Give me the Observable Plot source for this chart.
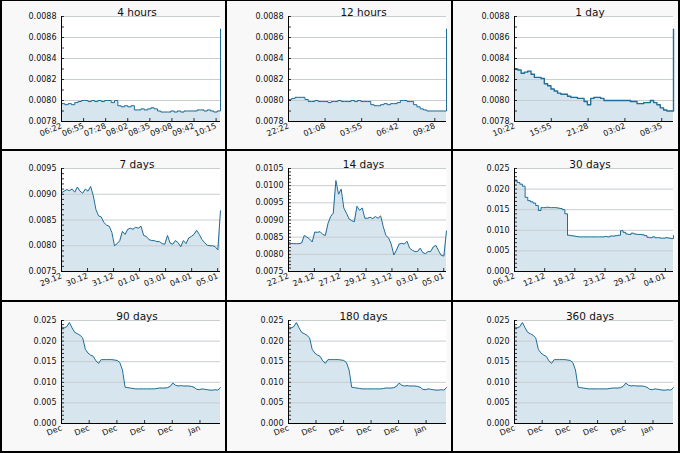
<!DOCTYPE html>
<html>
<head>
<meta charset="utf-8">
<script src="https://cdn.jsdelivr.net/npm/d3@7"></script>
<script src="https://cdn.jsdelivr.net/npm/@observablehq/plot@0.6"></script>
<style>
  html, body { margin: 0; padding: 0; background: #fff; }
  #grid { position: relative; width: 680px; height: 453px; background: #000; overflow: hidden; }
  .panel { position: absolute; background: #f8f8f8; overflow: hidden; }
  .panel svg { display: block; }
</style>
</head>
<body>
<div id="grid"></div>
<script>
// ---------- data ----------
const titles = ["4 hours", "12 hours", "1 day", "7 days", "14 days", "30 days", "90 days", "180 days", "360 days"];

// time spans of each panel (hours) and spacing of its x ticks (hours)
const spans = [4, 12, 24, 168, 336, 720, 744, 744, 744];
const tickSteps = [0.5556, 2.7778, 5.5556, 27.5, 55, 136.6, 129.6, 129.6, 129.6];

const labels4h  = ["06:22", "06:55", "07:28", "08:02", "08:35", "09:08", "09:42", "10:15"];
const labels12h = ["22:22", "01:08", "03:55", "06:42", "09:28"];
const labels1d  = ["10:22", "15:55", "21:28", "03:02", "08:35"];
const labels7d  = ["29.12", "30.12", "31.12", "01.01", "03.01", "04.01", "05.01"];
const labels14d = ["22.12", "24.12", "27.12", "29.12", "31.12", "03.01", "05.01"];
const labels30d = ["06.12", "12.12", "18.12", "23.12", "29.12", "04.01"];
const labelsMonths = ["Dec", "Dec", "Dec", "Dec", "Dec", "Jan"];

const yDomainShort = [0.0078, 0.0088];
const yDomain7d = [0.0075, 0.0095];
const yDomain14d = [0.0075, 0.0105];
const yDomainLong = [0, 0.025];

const yMajorShort = [0.0078, 0.0080, 0.0082, 0.0084, 0.0086, 0.0088];
const yMajor7d = [0.0075, 0.0080, 0.0085, 0.0090, 0.0095];
const yMajor14d = [0.0075, 0.0080, 0.0085, 0.0090, 0.0095, 0.0100, 0.0105];
const yMajorLong = [0, 0.005, 0.010, 0.015, 0.020, 0.025];

// values sampled evenly across each panel's span
const values4h = [
  0.00797, 0.00796, 0.00797, 0.00796, 0.00798, 0.00799, 0.00800, 0.00800, 0.00799, 0.00800,
  0.00799, 0.00800, 0.00799, 0.00800, 0.00800, 0.00798, 0.00800, 0.00795, 0.00794, 0.00795,
  0.00794, 0.00795, 0.00791, 0.00791, 0.00792, 0.00791, 0.00792, 0.00793, 0.00792, 0.00790,
  0.00789, 0.00789, 0.00789, 0.00790, 0.00789, 0.00790, 0.00789, 0.00790, 0.00790, 0.00790,
  0.00790, 0.00791, 0.00791, 0.00790, 0.00791, 0.00790, 0.00789, 0.00790, 0.00868
];
const values12h = [
  0.00801, 0.00802, 0.00803, 0.00803, 0.00803, 0.00801, 0.00799, 0.00799, 0.00800, 0.00799,
  0.00799, 0.00799, 0.00798, 0.00799, 0.00799, 0.00800, 0.00799, 0.00799, 0.00799, 0.00800,
  0.00799, 0.00800, 0.00799, 0.00799, 0.00799, 0.00796, 0.00795, 0.00795, 0.00796, 0.00797,
  0.00796, 0.00797, 0.00797, 0.00798, 0.00800, 0.00800, 0.00799, 0.00799, 0.00796, 0.00794,
  0.00792, 0.00791, 0.00790, 0.00790, 0.00790, 0.00790, 0.00790, 0.00790, 0.00868
];
const values1d = [
  0.00830, 0.00829, 0.00826, 0.00827, 0.00828, 0.00825, 0.00822, 0.00822, 0.00821, 0.00816,
  0.00814, 0.00811, 0.00809, 0.00807, 0.00806, 0.00806, 0.00804, 0.00803, 0.00803, 0.00802,
  0.00802, 0.00799, 0.00796, 0.00802, 0.00803, 0.00803, 0.00802, 0.00800, 0.00800, 0.00800,
  0.00800, 0.00800, 0.00800, 0.00800, 0.00800, 0.00799, 0.00799, 0.00797, 0.00797, 0.00798,
  0.00798, 0.00800, 0.00798, 0.00796, 0.00793, 0.00791, 0.00790, 0.00790, 0.00868
];
const values7d = [
  0.00903, 0.00906, 0.00909, 0.00907, 0.00910, 0.00904, 0.00914, 0.00906, 0.00902, 0.00910,
  0.00906, 0.00915, 0.00897, 0.00870, 0.00858, 0.00856, 0.00845, 0.00840, 0.00838, 0.00826,
  0.00800, 0.00804, 0.00810, 0.00828, 0.00822, 0.00832, 0.00834, 0.00832, 0.00836, 0.00834,
  0.00838, 0.00820, 0.00818, 0.00812, 0.00810, 0.00810, 0.00808, 0.00808, 0.00804, 0.00803,
  0.00820, 0.00805, 0.00803, 0.00810, 0.00806, 0.00798, 0.00810, 0.00804, 0.00815, 0.00818,
  0.00822, 0.00830, 0.00822, 0.00812, 0.00806, 0.00801, 0.00800, 0.00800, 0.00798, 0.00792,
  0.00868
];
const values14d = [
  0.00835, 0.00832, 0.00831, 0.00831, 0.00831, 0.00833, 0.00855, 0.00850, 0.00845, 0.00836,
  0.00865, 0.00864, 0.00866, 0.00858, 0.00855, 0.00890, 0.00910, 0.00920, 0.01015, 0.00975,
  0.00990, 0.00935, 0.00920, 0.00903, 0.00898, 0.00895, 0.00940, 0.00928, 0.00935, 0.00905,
  0.00905, 0.00908, 0.00904, 0.00910, 0.00905, 0.00912, 0.00880, 0.00855, 0.00848, 0.00830,
  0.00798, 0.00812, 0.00830, 0.00832, 0.00830, 0.00838, 0.00818, 0.00812, 0.00808, 0.00808,
  0.00818, 0.00805, 0.00802, 0.00808, 0.00808, 0.00822, 0.00826, 0.00810, 0.00797, 0.00795,
  0.00868
];
const values30d = [
  0.0222, 0.0216, 0.0212, 0.0207, 0.0180, 0.0172, 0.0169, 0.0166, 0.0160, 0.0148,
  0.0155, 0.0155, 0.0156, 0.0155, 0.0155, 0.0155, 0.0154, 0.0153, 0.0150, 0.0140,
  0.0088, 0.0087, 0.0086, 0.0085, 0.0084, 0.0084, 0.0084, 0.0084, 0.0084, 0.0084,
  0.0084, 0.0084, 0.0084, 0.0084, 0.0085, 0.0084, 0.0086, 0.0086, 0.0087, 0.0088,
  0.0099, 0.0095, 0.0091, 0.0090, 0.0093, 0.0091, 0.0090, 0.0090, 0.0089, 0.0087,
  0.0083, 0.0082, 0.0084, 0.0082, 0.0082, 0.0081, 0.0081, 0.0082, 0.0081, 0.0080,
  0.0087
];
const valuesLong = [
  0.0235, 0.0232, 0.0235, 0.0245, 0.0232, 0.0221, 0.0218, 0.0214, 0.0208, 0.0180,
  0.0171, 0.0166, 0.0163, 0.0152, 0.0146, 0.0155, 0.0155, 0.0155, 0.0155, 0.0155,
  0.0154, 0.0153, 0.0148, 0.0130, 0.0088, 0.0087, 0.0086, 0.0085, 0.0084, 0.0084,
  0.0084, 0.0084, 0.0084, 0.0084, 0.0084, 0.0084, 0.0085, 0.0086, 0.0086, 0.0086,
  0.0087, 0.0090, 0.0098, 0.0093, 0.0091, 0.0092, 0.0091, 0.0091, 0.0091, 0.0090,
  0.0088, 0.0083, 0.0082, 0.0084, 0.0083, 0.0082, 0.0081, 0.0081, 0.0082, 0.0081,
  0.0087
];

// ---------- panel assembly ----------
const panelValues = [values4h, values12h, values1d, values7d, values14d, values30d, valuesLong, valuesLong, valuesLong];
const panelLabels = [labels4h, labels12h, labels1d, labels7d, labels14d, labels30d, labelsMonths, labelsMonths, labelsMonths];
const panelDomains = [yDomainShort, yDomainShort, yDomainShort, yDomain7d, yDomain14d, yDomainLong, yDomainLong, yDomainLong, yDomainLong];
const panelMajors = [yMajorShort, yMajorShort, yMajorShort, yMajor7d, yMajor14d, yMajorLong, yMajorLong, yMajorLong, yMajorLong];
const panelMinorStep = [0.0001, 0.0001, 0.0001, 0.0001, 0.0001, 0.001, 0.001, 0.001, 0.001];
const panelFormat = [".4f", ".4f", ".4f", ".4f", ".4f", ".3f", ".3f", ".3f", ".3f"];
const panelCurve = ["step-after", "step-after", "step-after", "linear", "linear", "step-after", "linear", "linear", "linear"];

// layout (pixels)
const colX = [2, 227, 453], colW = [223, 224, 225];
const rowY = [1, 151, 302], rowH = [148, 149, 149];
const colML = [59, 61, 61];
const rowMT = [15, 17, 18], rowMB = [28, 29, 28];
const MR = 5;

const lineColor = "#1f6d98";
const fillColor = "#d6e5ee";
const gridColor = "#c8cdd0";

const grid = document.getElementById("grid");

titles.forEach((title, p) => {
  const col = p % 3, row = Math.floor(p / 3);
  const W = colW[col], H = rowH[row];
  const ml = colML[col], mt = rowMT[row], mb = rowMB[row];
  const innerW = W - ml - MR, innerH = H - mt - mb;

  const vals = panelValues[p];
  const span = spans[p];
  const n = vals.length - 1;
  const data = vals.map((v, i) => ({t: span * i / n, v}));

  const labels = panelLabels[p];
  const step = tickSteps[p];
  const xTicks = labels.map((_, i) => i * step);

  const [y0, y1] = panelDomains[p];
  const mstep = panelMinorStep[p];
  const minors = d3.range(Math.round(y0 / mstep), Math.round(y1 / mstep) + 1).map(k => +(k * mstep).toFixed(6));
  const fmt = d3.format(panelFormat[p]);
  const curve = panelCurve[p];

  const chart = Plot.plot({
    width: W,
    height: H,
    marginLeft: ml,
    marginRight: MR,
    marginTop: mt,
    marginBottom: mb,
    style: {background: "transparent", fontFamily: "DejaVu Sans", fontSize: "8px", color: "#111", overflow: "visible"},
    x: {domain: [0, span], axis: null},
    y: {domain: [y0, y1], axis: null},
    marks: [
      Plot.frame({fill: "white", stroke: null}),
      Plot.areaY(data, {x: "t", y1: () => y0, y2: "v", fill: fillColor, curve}),
      Plot.ruleY(panelMajors[p], {stroke: gridColor, strokeWidth: 1}),
      Plot.lineY(data, {x: "t", y: "v", stroke: lineColor, strokeWidth: p === 2 ? 1.4 : 1, curve}),
      Plot.tickY(minors, {y: d => d, stroke: "#000", insetRight: innerW - 3, strokeWidth: 0.8}),
      Plot.tickX(xTicks, {x: d => d, stroke: "#000", insetTop: innerH - 3, strokeWidth: 0.8}),
      Plot.ruleX([0], {stroke: "#000", strokeWidth: 1}),
      Plot.ruleY([y0], {stroke: "#000", strokeWidth: 1}),
      Plot.axisY(panelMajors[p], {tickSize: 0, tickPadding: 5, tickFormat: fmt, fontSize: 8, fill: "#111", label: null}),
      Plot.axisX(xTicks, {tickSize: 0, tickPadding: 4, tickRotate: -22, tickFormat: d => labels[Math.round(d / step)], fontSize: 8, fill: "#111", label: null}),
      Plot.text([title], {frameAnchor: "top", dy: -8, dx: -4, fontSize: 10.5, fill: "#111"})
    ]
  });

  const div = document.createElement("div");
  div.className = "panel";
  div.style.left = colX[col] + "px";
  div.style.top = rowY[row] + "px";
  div.style.width = W + "px";
  div.style.height = H + "px";
  div.appendChild(chart);
  grid.appendChild(div);
});
</script>
</body>
</html>
